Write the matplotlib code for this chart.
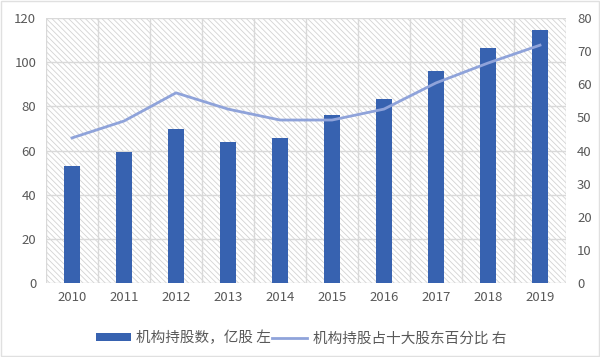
import matplotlib
matplotlib.use("Agg")
import matplotlib.pyplot as plt
from matplotlib.patches import Rectangle
from matplotlib.lines import Line2D
from matplotlib.patches import Patch

plt.rcParams['font.family'] = ['Noto Sans CJK SC', 'DejaVu Sans']
plt.rcParams['hatch.linewidth'] = 0.6
plt.rcParams['hatch.color'] = '#D3D3D3'

years = ['2010', '2011', '2012', '2013', '2014', '2015', '2016', '2017', '2018', '2019']
shares = [53.0, 59.3, 69.7, 63.9, 65.7, 76.0, 83.3, 96.0, 106.3, 114.6]
pct = [43.8, 48.9, 57.4, 52.5, 49.2, 49.2, 52.5, 60.4, 66.4, 71.8]
bar_label = '机构持股数，亿股 左'
line_label = '机构持股占十大股东百分比 右'

bar_color = '#3762B0'
line_color = '#8FA3DA'
tick_color = '#595959'
grid_color = '#D9D9D9'

fig = plt.figure(figsize=(6, 3.57), dpi=100)
ax = fig.add_axes([46/600, 1-283/357, 520/600, 265/357])
ax2 = ax.twinx()

x = list(range(len(years)))
ax.set_xlim(-0.5, len(years)-0.5)
ax.set_ylim(0, 120)
ax2.set_ylim(0, 80)

# hatched background
bg = Rectangle((0, 0), 1, 1, transform=ax.transAxes, facecolor='white',
               edgecolor='#D3D3D3', hatch='\\\\\\\\\\\\', linewidth=0, zorder=0)
ax.add_patch(bg)

# grid
for yv in range(20, 121, 20):
    ax.axhline(yv, color=grid_color, lw=1.0, zorder=1)
for i in range(len(years)+1):
    ax.axvline(i-0.5, color=grid_color, lw=1.0, zorder=1)
ax.axhline(0, color=grid_color, lw=1.0, zorder=1)

ax.bar(x, shares, width=0.29, color=bar_color, zorder=3)
ax2.plot(x, pct, color=line_color, lw=2.0, zorder=4)

ax.set_xticks(x)
ax.set_xticklabels(years)
ax.set_yticks(range(0, 121, 20))
ax2.set_yticks(range(0, 81, 10))
for a in (ax, ax2):
    for s in a.spines.values():
        s.set_visible(False)
    a.tick_params(length=0, colors=tick_color, labelsize=9.5)
ax.tick_params(axis='x', pad=6)
ax.tick_params(axis='y', pad=7)
ax2.tick_params(axis='y', pad=8)

handles = [Patch(facecolor=bar_color, edgecolor='none'),
           Line2D([0], [0], color=line_color, lw=2.0)]
fig.legend(handles, [bar_label, line_label], loc='center', bbox_to_anchor=(301/600, 1-338/357),
           ncol=2, frameon=False, fontsize=10.5, labelcolor=tick_color, handlelength=2.4,
           handleheight=0.5, columnspacing=0.1, handletextpad=0.35)

fig.patches.append(Rectangle((0.002, 0.003), 0.996, 0.994, transform=fig.transFigure,
                             fill=False, edgecolor='#E0E0E0', lw=1))
fig.savefig('out.png', dpi=100)
